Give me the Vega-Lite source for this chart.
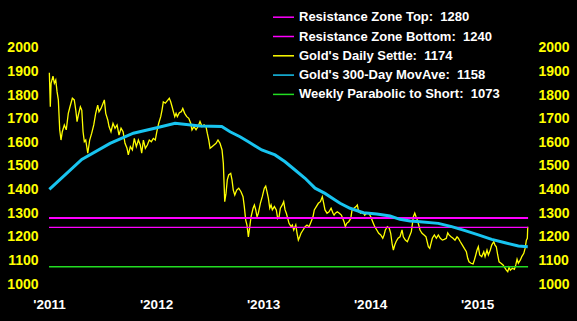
{
  "$schema": "https://vega.github.io/schema/vega-lite/v6.json",
  "autosize": {"type": "none"},
  "width": 489,
  "height": 288,
  "padding": {"left": 44, "top": 5, "right": 44, "bottom": 28},
  "background": "#000000",
  "datasets": {
    "settle": [
      {"year":2011.003,"price":1895},{"year":2011.012,"price":1751},{"year":2011.019,"price":1850},{"year":2011.037,"price":1881},{"year":2011.050,"price":1850},{"year":2011.063,"price":1864},{"year":2011.075,"price":1815},{"year":2011.087,"price":1780},{"year":2011.100,"price":1653},{"year":2011.112,"price":1610},{"year":2011.124,"price":1645},{"year":2011.143,"price":1674},{"year":2011.161,"price":1653},{"year":2011.180,"price":1723},{"year":2011.196,"price":1751},{"year":2011.218,"price":1787},{"year":2011.236,"price":1780},{"year":2011.250,"price":1737},{"year":2011.262,"price":1688},{"year":2011.274,"price":1716},{"year":2011.293,"price":1751},{"year":2011.306,"price":1737},{"year":2011.318,"price":1645},{"year":2011.330,"price":1603},{"year":2011.343,"price":1610},{"year":2011.362,"price":1554},{"year":2011.380,"price":1610},{"year":2011.399,"price":1639},{"year":2011.418,"price":1674},{"year":2011.436,"price":1723},{"year":2011.455,"price":1758},{"year":2011.467,"price":1730},{"year":2011.486,"price":1744},{"year":2011.505,"price":1766},{"year":2011.517,"price":1780},{"year":2011.530,"price":1723},{"year":2011.549,"price":1695},{"year":2011.561,"price":1667},{"year":2011.579,"price":1645},{"year":2011.598,"price":1681},{"year":2011.617,"price":1660},{"year":2011.636,"price":1674},{"year":2011.654,"price":1631},{"year":2011.673,"price":1660},{"year":2011.692,"price":1645},{"year":2011.710,"price":1596},{"year":2011.729,"price":1575},{"year":2011.741,"price":1547},{"year":2011.760,"price":1582},{"year":2011.779,"price":1568},{"year":2011.797,"price":1617},{"year":2011.816,"price":1582},{"year":2011.835,"price":1610},{"year":2011.853,"price":1589},{"year":2011.866,"price":1554},{"year":2011.882,"price":1610},{"year":2011.900,"price":1575},{"year":2011.919,"price":1589},{"year":2011.937,"price":1610},{"year":2011.956,"price":1603},{"year":2011.975,"price":1617},{"year":2011.993,"price":1610},{"year":2012.007,"price":1645},{"year":2012.025,"price":1681},{"year":2012.044,"price":1709},{"year":2012.056,"price":1737},{"year":2012.068,"price":1772},{"year":2012.087,"price":1766},{"year":2012.106,"price":1777},{"year":2012.124,"price":1787},{"year":2012.137,"price":1772},{"year":2012.150,"price":1751},{"year":2012.162,"price":1730},{"year":2012.175,"price":1709},{"year":2012.187,"price":1723},{"year":2012.199,"price":1709},{"year":2012.218,"price":1726},{"year":2012.236,"price":1730},{"year":2012.250,"price":1744},{"year":2012.268,"price":1723},{"year":2012.287,"price":1709},{"year":2012.306,"price":1702},{"year":2012.324,"price":1681},{"year":2012.336,"price":1653},{"year":2012.355,"price":1667},{"year":2012.374,"price":1653},{"year":2012.393,"price":1667},{"year":2012.411,"price":1688},{"year":2012.430,"price":1667},{"year":2012.449,"price":1674},{"year":2012.467,"price":1667},{"year":2012.479,"price":1639},{"year":2012.493,"price":1610},{"year":2012.505,"price":1575},{"year":2012.523,"price":1582},{"year":2012.542,"price":1589},{"year":2012.561,"price":1596},{"year":2012.579,"price":1610},{"year":2012.598,"price":1596},{"year":2012.617,"price":1568},{"year":2012.629,"price":1511},{"year":2012.642,"price":1349},{"year":2012.654,"price":1384},{"year":2012.666,"price":1441},{"year":2012.679,"price":1462},{"year":2012.698,"price":1469},{"year":2012.710,"price":1441},{"year":2012.722,"price":1398},{"year":2012.736,"price":1377},{"year":2012.754,"price":1398},{"year":2012.773,"price":1406},{"year":2012.794,"price":1391},{"year":2012.813,"price":1370},{"year":2012.825,"price":1328},{"year":2012.838,"price":1271},{"year":2012.850,"price":1250},{"year":2012.863,"price":1200},{"year":2012.876,"price":1243},{"year":2012.888,"price":1285},{"year":2012.907,"price":1321},{"year":2012.919,"price":1335},{"year":2012.932,"price":1314},{"year":2012.944,"price":1285},{"year":2012.956,"price":1300},{"year":2012.975,"price":1342},{"year":2012.993,"price":1370},{"year":2013.012,"price":1406},{"year":2013.025,"price":1415},{"year":2013.037,"price":1391},{"year":2013.050,"price":1363},{"year":2013.063,"price":1321},{"year":2013.075,"price":1335},{"year":2013.087,"price":1314},{"year":2013.106,"price":1328},{"year":2013.124,"price":1314},{"year":2013.137,"price":1278},{"year":2013.150,"price":1285},{"year":2013.162,"price":1321},{"year":2013.180,"price":1335},{"year":2013.193,"price":1349},{"year":2013.206,"price":1314},{"year":2013.218,"price":1300},{"year":2013.231,"price":1278},{"year":2013.243,"price":1257},{"year":2013.262,"price":1243},{"year":2013.274,"price":1250},{"year":2013.287,"price":1229},{"year":2013.306,"price":1250},{"year":2013.318,"price":1215},{"year":2013.330,"price":1186},{"year":2013.343,"price":1200},{"year":2013.355,"price":1215},{"year":2013.374,"price":1229},{"year":2013.393,"price":1243},{"year":2013.411,"price":1250},{"year":2013.430,"price":1243},{"year":2013.449,"price":1264},{"year":2013.467,"price":1285},{"year":2013.479,"price":1314},{"year":2013.498,"price":1328},{"year":2013.517,"price":1342},{"year":2013.536,"price":1349},{"year":2013.554,"price":1370},{"year":2013.567,"price":1342},{"year":2013.579,"price":1314},{"year":2013.598,"price":1300},{"year":2013.617,"price":1306},{"year":2013.636,"price":1321},{"year":2013.654,"price":1300},{"year":2013.664,"price":1292},{"year":2013.676,"price":1300},{"year":2013.694,"price":1306},{"year":2013.713,"price":1300},{"year":2013.732,"price":1292},{"year":2013.745,"price":1278},{"year":2013.757,"price":1264},{"year":2013.769,"price":1243},{"year":2013.782,"price":1257},{"year":2013.801,"price":1264},{"year":2013.820,"price":1278},{"year":2013.832,"price":1314},{"year":2013.850,"price":1321},{"year":2013.869,"price":1328},{"year":2013.881,"price":1335},{"year":2013.894,"price":1306},{"year":2013.913,"price":1300},{"year":2013.932,"price":1306},{"year":2013.950,"price":1292},{"year":2013.969,"price":1300},{"year":2013.988,"price":1300},{"year":2014.007,"price":1285},{"year":2014.025,"price":1264},{"year":2014.044,"price":1243},{"year":2014.063,"price":1229},{"year":2014.081,"price":1215},{"year":2014.100,"price":1208},{"year":2014.119,"price":1194},{"year":2014.131,"price":1208},{"year":2014.143,"price":1229},{"year":2014.162,"price":1243},{"year":2014.180,"price":1236},{"year":2014.193,"price":1215},{"year":2014.206,"price":1172},{"year":2014.218,"price":1144},{"year":2014.231,"price":1165},{"year":2014.243,"price":1179},{"year":2014.262,"price":1194},{"year":2014.280,"price":1200},{"year":2014.299,"price":1229},{"year":2014.311,"price":1200},{"year":2014.330,"price":1186},{"year":2014.349,"price":1179},{"year":2014.367,"price":1200},{"year":2014.386,"price":1222},{"year":2014.405,"price":1285},{"year":2014.418,"price":1300},{"year":2014.430,"price":1285},{"year":2014.442,"price":1271},{"year":2014.455,"price":1250},{"year":2014.467,"price":1229},{"year":2014.486,"price":1215},{"year":2014.505,"price":1208},{"year":2014.523,"price":1200},{"year":2014.545,"price":1158},{"year":2014.558,"price":1151},{"year":2014.570,"price":1172},{"year":2014.582,"price":1194},{"year":2014.601,"price":1208},{"year":2014.620,"price":1194},{"year":2014.638,"price":1208},{"year":2014.657,"price":1194},{"year":2014.676,"price":1186},{"year":2014.694,"price":1189},{"year":2014.713,"price":1194},{"year":2014.726,"price":1217},{"year":2014.738,"price":1208},{"year":2014.757,"price":1200},{"year":2014.776,"price":1194},{"year":2014.794,"price":1186},{"year":2014.813,"price":1200},{"year":2014.825,"price":1194},{"year":2014.844,"price":1179},{"year":2014.863,"price":1165},{"year":2014.881,"price":1151},{"year":2014.900,"price":1137},{"year":2014.913,"price":1109},{"year":2014.925,"price":1094},{"year":2014.944,"price":1088},{"year":2014.963,"price":1085},{"year":2014.975,"price":1102},{"year":2014.988,"price":1123},{"year":2015.000,"price":1144},{"year":2015.012,"price":1158},{"year":2015.025,"price":1123},{"year":2015.044,"price":1116},{"year":2015.063,"price":1137},{"year":2015.075,"price":1116},{"year":2015.093,"price":1144},{"year":2015.106,"price":1123},{"year":2015.124,"price":1144},{"year":2015.137,"price":1165},{"year":2015.156,"price":1179},{"year":2015.168,"price":1165},{"year":2015.180,"price":1158},{"year":2015.193,"price":1123},{"year":2015.206,"price":1094},{"year":2015.224,"price":1088},{"year":2015.243,"price":1081},{"year":2015.262,"price":1067},{"year":2015.274,"price":1059},{"year":2015.287,"price":1052},{"year":2015.299,"price":1071},{"year":2015.311,"price":1059},{"year":2015.330,"price":1067},{"year":2015.349,"price":1062},{"year":2015.362,"price":1081},{"year":2015.374,"price":1105},{"year":2015.386,"price":1088},{"year":2015.405,"price":1102},{"year":2015.418,"price":1116},{"year":2015.437,"price":1130},{"year":2015.449,"price":1151},{"year":2015.461,"price":1186},{"year":2015.470,"price":1194},{"year":2015.474,"price":1243}
    ],
    "mavg": [
      {"year":2011.003,"price":1401},{"year":2011.306,"price":1528},{"year":2011.570,"price":1596},{"year":2011.788,"price":1639},{"year":2012.007,"price":1662},{"year":2012.178,"price":1681},{"year":2012.411,"price":1669},{"year":2012.614,"price":1667},{"year":2012.692,"price":1645},{"year":2012.785,"price":1624},{"year":2012.863,"price":1603},{"year":2012.988,"price":1568},{"year":2013.112,"price":1547},{"year":2013.206,"price":1518},{"year":2013.299,"price":1483},{"year":2013.393,"price":1448},{"year":2013.486,"price":1406},{"year":2013.579,"price":1384},{"year":2013.673,"price":1356},{"year":2013.720,"price":1342},{"year":2013.813,"price":1321},{"year":2013.937,"price":1302},{"year":2014.063,"price":1297},{"year":2014.187,"price":1288},{"year":2014.280,"price":1274},{"year":2014.374,"price":1267},{"year":2014.467,"price":1264},{"year":2014.638,"price":1257},{"year":2014.763,"price":1243},{"year":2014.888,"price":1226},{"year":2015.012,"price":1208},{"year":2015.137,"price":1189},{"year":2015.262,"price":1175},{"year":2015.386,"price":1161},{"year":2015.474,"price":1158}
    ],
    "levels": [
      {"series":"Resistance Zone Top:\u00a0 1280","value":1280,"start":2011.0,"end":2015.477},
      {"series":"Resistance Zone Bottom:\u00a0 1240","value":1240,"start":2011.0,"end":2015.477},
      {"series":"Weekly Parabolic to Short:\u00a0 1073","value":1073,"start":2011.0,"end":2015.477}
    ]
  },
  "layer": [
    {
      "layer": [
        {
          "data": {"name": "settle"},
          "mark": {"type": "line", "strokeWidth": 1.3},
          "encoding": {
            "x": {"field": "year", "type": "quantitative", "scale": {"domain": [2010.953, 2015.523], "nice": false, "zero": false},
                  "axis": {"title": null, "values": [2011, 2012, 2013, 2014, 2015], "labelExpr": "\"'\" + datum.value", "labelColor": "#ffffff", "labelFontSize": 13.5, "labelPadding": 4, "orient": "bottom"}},
            "y": {"field": "price", "type": "quantitative", "scale": {"domain": [962, 2182], "nice": false, "zero": false},
                  "axis": {"title": null, "orient": "left", "values": [1000,1100,1200,1300,1400,1500,1600,1700,1800,1900,2000], "format": "d", "labelColor": "#ffff00", "labelPadding": 6}},
            "color": {"datum": "Gold's Daily Settle:\u00a0 1174", "type": "nominal"}
          }
        },
        {
          "data": {"name": "levels"},
          "transform": [{"filter": "datum.value == 1280"}],
          "mark": {"type": "rule", "strokeWidth": 2},
          "encoding": {
            "x": {"field": "start", "type": "quantitative"},
            "x2": {"field": "end"},
            "y": {"field": "value", "type": "quantitative",
                  "axis": {"title": null, "orient": "left", "values": [1000,1100,1200,1300,1400,1500,1600,1700,1800,1900,2000], "format": "d", "labelColor": "#ffff00", "labelPadding": 6}},
            "color": {"field": "series", "type": "nominal", "title": null}
          }
        },
        {
          "data": {"name": "levels"},
          "transform": [{"filter": "datum.value == 1240"}],
          "mark": {"type": "rule", "strokeWidth": 1.3},
          "encoding": {
            "x": {"field": "start", "type": "quantitative"},
            "x2": {"field": "end"},
            "y": {"field": "value", "type": "quantitative",
                  "axis": {"title": null, "orient": "left", "values": [1000,1100,1200,1300,1400,1500,1600,1700,1800,1900,2000], "format": "d", "labelColor": "#ffff00", "labelPadding": 6}},
            "color": {"field": "series", "type": "nominal", "title": null}
          }
        },
        {
          "data": {"name": "levels"},
          "transform": [{"filter": "datum.value == 1073"}],
          "mark": {"type": "rule", "strokeWidth": 1.5},
          "encoding": {
            "x": {"field": "start", "type": "quantitative"},
            "x2": {"field": "end"},
            "y": {"field": "value", "type": "quantitative",
                  "axis": {"title": null, "orient": "left", "values": [1000,1100,1200,1300,1400,1500,1600,1700,1800,1900,2000], "format": "d", "labelColor": "#ffff00", "labelPadding": 6}},
            "color": {"field": "series", "type": "nominal", "title": null}
          }
        },
        {
          "data": {"name": "mavg"},
          "mark": {"type": "line", "strokeWidth": 3},
          "encoding": {
            "x": {"field": "year", "type": "quantitative"},
            "y": {"field": "price", "type": "quantitative",
                  "axis": {"title": null, "orient": "left", "values": [1000,1100,1200,1300,1400,1500,1600,1700,1800,1900,2000], "format": "d", "labelColor": "#ffff00", "labelPadding": 6}},
            "color": {"datum": "Gold's 300-Day MovAve:\u00a0 1158", "type": "nominal",
                      "scale": {"domain": ["Resistance Zone Top:\u00a0 1280", "Resistance Zone Bottom:\u00a0 1240", "Gold's Daily Settle:\u00a0 1174", "Gold's 300-Day MovAve:\u00a0 1158", "Weekly Parabolic to Short:\u00a0 1073"],
                                "range": ["#ff00ff", "#ff00ff", "#ffff00", "#18c4f0", "#22dd22"]},
                      "title": null,
                      "legend": {"title": null, "orient": "none", "legendX": 228, "legendY": 0.7}}
          }
        }
      ]
    },
    {
      "data": {"name": "mavg"},
      "mark": {"type": "line", "strokeOpacity": 0},
      "encoding": {
        "x": {"field": "year", "type": "quantitative"},
        "y": {"field": "price", "type": "quantitative", "scale": {"domain": [962, 2182], "nice": false, "zero": false},
              "axis": {"title": null, "orient": "right", "values": [1000,1100,1200,1300,1400,1500,1600,1700,1800,1900,2000], "format": "d", "labelColor": "#ffff00", "labelPadding": 5}}
      }
    }
  ],
  "resolve": {"scale": {"y": "independent"}},
  "config": {
    "view": {"stroke": null},
    "axis": {"grid": false, "ticks": false, "domain": false, "labelFont": "Liberation Sans", "labelFontWeight": "bold", "labelFontSize": 14, "labelOverlap": false},
    "legend": {"padding": 0, "symbolType": "stroke", "symbolStrokeWidth": 1.5, "symbolSize": 441, "labelColor": "#ffffff", "labelFont": "Liberation Sans", "labelFontWeight": "bold", "labelFontSize": 13, "labelOffset": 4, "labelLimit": 400, "rowPadding": 0.3}
  }
}
